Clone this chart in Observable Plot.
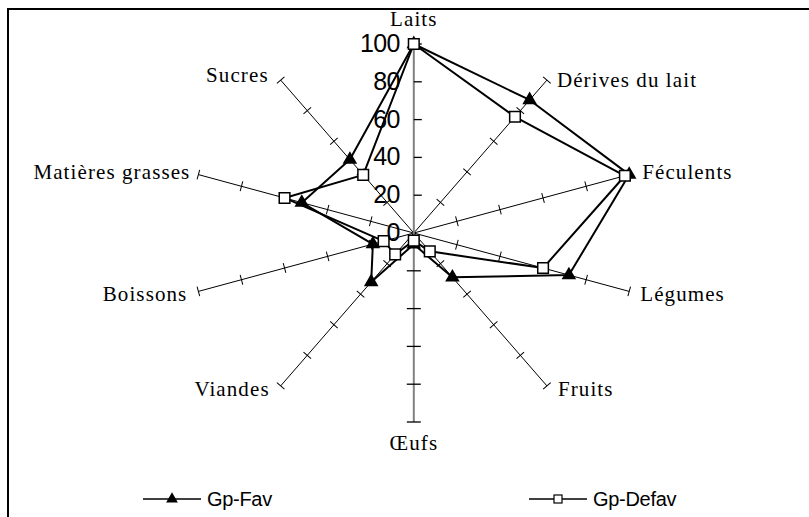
<!DOCTYPE html>
<html>
<head>
<meta charset="utf-8">
<script src="https://cdn.jsdelivr.net/npm/d3@7"></script>
<script src="https://cdn.jsdelivr.net/npm/@observablehq/plot@0.6"></script>
<style>
html, body { margin: 0; padding: 0; background: #fff; }
#wrap { position: relative; width: 809px; height: 517px; overflow: hidden; background: #fff; }
#frame { position: absolute; left: 7px; top: 8px; width: 830px; height: 540px; border-left: 2px solid #000; border-top: 2px solid #000; }
#chart { position: absolute; left: 0; top: 0; }
#legend { position: absolute; left: 0; top: 485px; width: 809px; height: 28px; font-family: "Liberation Sans", Arial, sans-serif; font-size: 20px; letter-spacing: -0.3px; color: #000; }
#legend .sw { position: absolute; top: 4px; }
#legend .lb { position: absolute; top: 0; line-height: 28px; white-space: nowrap; }
</style>
</head>
<body>
<div id="wrap"><div id="frame"></div><div id="chart"></div><div id="legend"></div></div>
<script>
// ---- data ----
const categories = ["Laits", "Dérives du lait", "Féculents", "Légumes", "Fruits", "Œufs", "Viandes", "Boissons", "Matières grasses", "Sucres"];
const gpFav   = [100, 87, 100, 72, 29, 6, 32, 19, 52, 48];
const gpDefav = [100, 76,  98, 60, 12, 4, 14, 14, 60, 38];
const seriesNames = ["Gp-Fav", "Gp-Defav"];
const tickValues = [0, 20, 40, 60, 80, 100];
const tickLabels = ["0", "20", "40", "60", "80", "100"];

// ---- geometry helpers ----
const n = categories.length;
const ang = i => 2 * Math.PI * i / n;
const X = (v, i) => v * Math.sin(ang(i));
const Y = (v, i) => v * Math.cos(ang(i));
const xRange = [186.8, 639.8];
const yRange = [421.5, 43.5];
const pxPerX = (xRange[1] - xRange[0]) / 200;
const pxPerY = (yRange[0] - yRange[1]) / 200;
const screenAngle = i => Math.atan2(-pxPerY * Math.cos(ang(i)), pxPerX * Math.sin(ang(i))) * 180 / Math.PI;

const rows = [];
categories.forEach((c, i) => {
  rows.push({cat: c, i, series: seriesNames[0], v: gpFav[i]});
  rows.push({cat: c, i, series: seriesNames[1], v: gpDefav[i]});
});
const spokes = categories.map((c, i) => ({cat: c, i}));
const spokeTicks = [];
spokes.forEach(s => {
  if (s.i === 0 || s.i === 5) return;
  tickValues.slice(1).forEach(v => spokeTicks.push({i: s.i, v}));
});
const vertTicks = tickValues.slice(1);
const tickData = tickValues.map((v, k) => ({v, label: tickLabels[k]}));

const crossSym = {draw(ctx, size) { const r = Math.sqrt(size / Math.PI); ctx.moveTo(-r, 0); ctx.lineTo(r, 0); }};
const rightSym = {draw(ctx, size) { const r = Math.sqrt(size / Math.PI); ctx.moveTo(0, 0); ctx.lineTo(r, 0); }};

const serif = "'Liberation Serif', 'Times New Roman', serif";
const sans = "'Liberation Sans', Arial, sans-serif";
const labelGroup = (idx, opts) => Plot.text(spokes.filter(s => idx.includes(s.i)), {
  x: d => X(100, d.i), y: d => Y(100, d.i), text: "cat",
  fontFamily: serif, fontSize: 21, fill: "#000", ...opts
});

const chart = Plot.plot({
  width: 809, height: 470,
  margin: 0,
  x: {type: "linear", domain: [-100, 100], range: xRange, axis: null},
  y: {type: "linear", domain: [-100, 100], range: yRange, axis: null},
  style: {background: "transparent", overflow: "visible"},
  marks: [
    // spokes
    Plot.link(spokes.filter(s => s.i !== 0 && s.i !== 5), {x1: () => 0, y1: () => 0, x2: d => X(100, d.i), y2: d => Y(100, d.i), stroke: "#000", strokeWidth: 1}),
    Plot.link(spokes.filter(s => s.i === 0 || s.i === 5), {x1: () => 0, y1: () => 0, x2: d => X(100, d.i), y2: d => Y(100, d.i), stroke: "#808080", strokeWidth: 2}),
    // tick marks on spokes
    Plot.dot(spokeTicks, {x: d => X(d.v, d.i), y: d => Y(d.v, d.i), symbol: crossSym, r: 5, rotate: d => screenAngle(d.i) + 90, fill: "none", stroke: "#000", strokeWidth: 1}),
    Plot.dot(vertTicks, {x: () => 0, y: d => Y(d, 0), symbol: rightSym, r: 8, fill: "none", stroke: "#000", strokeWidth: 1.3}),
    Plot.dot(vertTicks, {x: () => 0, y: d => Y(d, 5), symbol: crossSym, r: 7, fill: "none", stroke: "#000", strokeWidth: 1.3}),
    // series
    Plot.line(rows, {x: d => X(d.v, d.i), y: d => Y(d.v, d.i), z: "series", curve: "linear-closed", stroke: "#000", strokeWidth: 2}),
    Plot.dot(rows.filter(d => d.series === seriesNames[0]), {x: d => X(d.v, d.i), y: d => Y(d.v, d.i), symbol: "triangle", r: 5.4, fill: "#000", stroke: "none"}),
    Plot.dot(rows.filter(d => d.series === seriesNames[1]), {x: d => X(d.v, d.i), y: d => Y(d.v, d.i), symbol: "square", r: 6, fill: "#fff", stroke: "#000", strokeWidth: 1.5}),
    // value tick labels
    Plot.text(tickData, {x: () => 0, y: d => Y(d.v, 0), text: "label", textAnchor: "end", dx: -14, fontFamily: sans, fontSize: 25, fill: "#000"}),
    // category labels
    labelGroup([0], {textAnchor: "middle", dy: -25}),
    labelGroup([1], {textAnchor: "start", dx: 10, dy: 0}),
    labelGroup([2], {textAnchor: "start", dx: 13, dy: -2}),
    labelGroup([3, 4], {textAnchor: "start", dx: 11, dy: 3}),
    labelGroup([5], {textAnchor: "middle", dy: 21}),
    labelGroup([6, 7], {textAnchor: "end", dx: -11, dy: 3}),
    labelGroup([8], {textAnchor: "end", dx: -8, dy: -2}),
    labelGroup([9], {textAnchor: "end", dx: -12, dy: -5})
  ]
});
d3.select(chart).selectAll("text").each(function() {
  const t = this.textContent;
  if (categories.includes(t)) this.style.letterSpacing = "1.1px";
  else if (tickLabels.includes(t)) this.style.letterSpacing = "-0.6px";
});
document.getElementById("chart").appendChild(chart);

// ---- legend ----
const legend = d3.select("#legend");
const items = [
  {name: seriesNames[0], sx: 143, tx: 207, sym: "tri"},
  {name: seriesNames[1], sx: 529, tx: 593, sym: "sq"}
];
items.forEach(it => {
  const s = legend.append("svg").attr("class", "sw").attr("width", 58).attr("height", 20).style("left", it.sx + "px");
  s.append("line").attr("x1", 0).attr("x2", 58).attr("y1", 10).attr("y2", 10).attr("stroke", "#000").attr("stroke-width", 1.5);
  if (it.sym === "tri") {
    s.append("path").attr("d", d3.symbol(d3.symbolTriangle, 60)()).attr("transform", "translate(29,10)").attr("fill", "#000");
  } else {
    s.append("rect").attr("x", 25).attr("y", 6).attr("width", 8).attr("height", 8).attr("fill", "#fff").attr("stroke", "#000").attr("stroke-width", 1.2);
  }
  legend.append("div").attr("class", "lb").style("left", it.tx + "px").text(it.name);
});
</script>
</body>
</html>
